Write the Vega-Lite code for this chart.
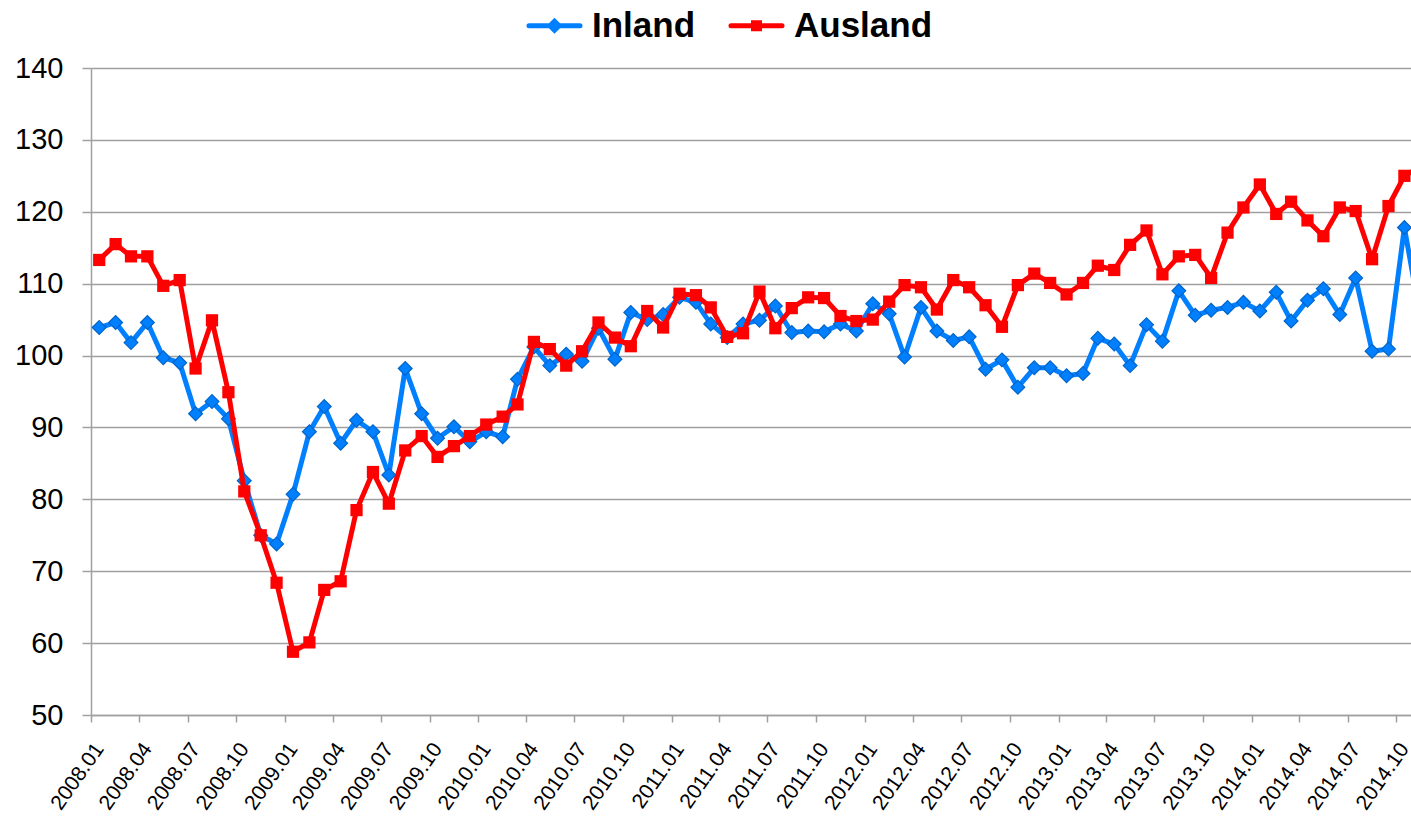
{
  "$schema": "https://vega.github.io/schema/vega-lite/v6.json",
  "width": 1320,
  "height": 647,
  "autosize": {"type": "none"},
  "padding": {"left": 91, "top": 68, "right": 0, "bottom": 102},
  "background": "white",
  "config": {
    "font": "Liberation Sans",
    "view": {"stroke": null}
  },
  "data": {
    "values": [
      {"month": "2008-01-01", "Inland": 103.9, "Ausland": 113.3},
      {"month": "2008-02-01", "Inland": 104.6, "Ausland": 115.5},
      {"month": "2008-03-01", "Inland": 101.8, "Ausland": 113.8},
      {"month": "2008-04-01", "Inland": 104.6, "Ausland": 113.8},
      {"month": "2008-05-01", "Inland": 99.7, "Ausland": 109.7},
      {"month": "2008-06-01", "Inland": 99.0, "Ausland": 110.5},
      {"month": "2008-07-01", "Inland": 91.9, "Ausland": 98.2},
      {"month": "2008-08-01", "Inland": 93.6, "Ausland": 104.9},
      {"month": "2008-09-01", "Inland": 91.2, "Ausland": 94.9},
      {"month": "2008-10-01", "Inland": 82.6, "Ausland": 81.1},
      {"month": "2008-11-01", "Inland": 75.0, "Ausland": 75.0},
      {"month": "2008-12-01", "Inland": 73.8, "Ausland": 68.4},
      {"month": "2009-01-01", "Inland": 80.7, "Ausland": 58.8},
      {"month": "2009-02-01", "Inland": 89.4, "Ausland": 60.1},
      {"month": "2009-03-01", "Inland": 92.9, "Ausland": 67.4},
      {"month": "2009-04-01", "Inland": 87.8, "Ausland": 68.6},
      {"month": "2009-05-01", "Inland": 91.0, "Ausland": 78.5},
      {"month": "2009-06-01", "Inland": 89.4, "Ausland": 83.8},
      {"month": "2009-07-01", "Inland": 83.4, "Ausland": 79.4},
      {"month": "2009-08-01", "Inland": 98.2, "Ausland": 86.8},
      {"month": "2009-09-01", "Inland": 91.9, "Ausland": 88.8},
      {"month": "2009-10-01", "Inland": 88.5, "Ausland": 85.9},
      {"month": "2009-11-01", "Inland": 90.1, "Ausland": 87.4},
      {"month": "2009-12-01", "Inland": 88.0, "Ausland": 88.8},
      {"month": "2010-01-01", "Inland": 89.4, "Ausland": 90.4},
      {"month": "2010-02-01", "Inland": 88.7, "Ausland": 91.5},
      {"month": "2010-03-01", "Inland": 96.7, "Ausland": 93.2},
      {"month": "2010-04-01", "Inland": 101.2, "Ausland": 101.9},
      {"month": "2010-05-01", "Inland": 98.6, "Ausland": 100.9},
      {"month": "2010-06-01", "Inland": 100.2, "Ausland": 98.6},
      {"month": "2010-07-01", "Inland": 99.2, "Ausland": 100.6},
      {"month": "2010-08-01", "Inland": 103.8, "Ausland": 104.6},
      {"month": "2010-09-01", "Inland": 99.5, "Ausland": 102.5},
      {"month": "2010-10-01", "Inland": 106.0, "Ausland": 101.3},
      {"month": "2010-11-01", "Inland": 105.0, "Ausland": 106.2},
      {"month": "2010-12-01", "Inland": 105.7, "Ausland": 103.9},
      {"month": "2011-01-01", "Inland": 108.1, "Ausland": 108.6},
      {"month": "2011-02-01", "Inland": 107.4, "Ausland": 108.4},
      {"month": "2011-03-01", "Inland": 104.4, "Ausland": 106.7},
      {"month": "2011-04-01", "Inland": 102.5, "Ausland": 102.6},
      {"month": "2011-05-01", "Inland": 104.4, "Ausland": 103.1},
      {"month": "2011-06-01", "Inland": 104.9, "Ausland": 108.9},
      {"month": "2011-07-01", "Inland": 106.9, "Ausland": 103.8},
      {"month": "2011-08-01", "Inland": 103.2, "Ausland": 106.6},
      {"month": "2011-09-01", "Inland": 103.4, "Ausland": 108.1},
      {"month": "2011-10-01", "Inland": 103.3, "Ausland": 108.0},
      {"month": "2011-11-01", "Inland": 104.4, "Ausland": 105.5},
      {"month": "2011-12-01", "Inland": 103.4, "Ausland": 104.8},
      {"month": "2012-01-01", "Inland": 107.2, "Ausland": 105.0},
      {"month": "2012-02-01", "Inland": 105.8, "Ausland": 107.5},
      {"month": "2012-03-01", "Inland": 99.8, "Ausland": 109.8},
      {"month": "2012-04-01", "Inland": 106.7, "Ausland": 109.5},
      {"month": "2012-05-01", "Inland": 103.4, "Ausland": 106.4},
      {"month": "2012-06-01", "Inland": 102.1, "Ausland": 110.5},
      {"month": "2012-07-01", "Inland": 102.6, "Ausland": 109.5},
      {"month": "2012-08-01", "Inland": 98.1, "Ausland": 107.0},
      {"month": "2012-09-01", "Inland": 99.4, "Ausland": 104.0},
      {"month": "2012-10-01", "Inland": 95.6, "Ausland": 109.8},
      {"month": "2012-11-01", "Inland": 98.3, "Ausland": 111.4},
      {"month": "2012-12-01", "Inland": 98.3, "Ausland": 110.1},
      {"month": "2013-01-01", "Inland": 97.2, "Ausland": 108.5},
      {"month": "2013-02-01", "Inland": 97.5, "Ausland": 110.1},
      {"month": "2013-03-01", "Inland": 102.4, "Ausland": 112.5},
      {"month": "2013-04-01", "Inland": 101.6, "Ausland": 111.9},
      {"month": "2013-05-01", "Inland": 98.6, "Ausland": 115.4},
      {"month": "2013-06-01", "Inland": 104.3, "Ausland": 117.4},
      {"month": "2013-07-01", "Inland": 102.0, "Ausland": 111.3},
      {"month": "2013-08-01", "Inland": 109.0, "Ausland": 113.8},
      {"month": "2013-09-01", "Inland": 105.6, "Ausland": 114.0},
      {"month": "2013-10-01", "Inland": 106.3, "Ausland": 110.8},
      {"month": "2013-11-01", "Inland": 106.7, "Ausland": 117.1},
      {"month": "2013-12-01", "Inland": 107.4, "Ausland": 120.6},
      {"month": "2014-01-01", "Inland": 106.2, "Ausland": 123.8},
      {"month": "2014-02-01", "Inland": 108.8, "Ausland": 119.7},
      {"month": "2014-03-01", "Inland": 104.8, "Ausland": 121.4},
      {"month": "2014-04-01", "Inland": 107.7, "Ausland": 118.8},
      {"month": "2014-05-01", "Inland": 109.3, "Ausland": 116.6},
      {"month": "2014-06-01", "Inland": 105.7, "Ausland": 120.6},
      {"month": "2014-07-01", "Inland": 110.8, "Ausland": 120.1},
      {"month": "2014-08-01", "Inland": 100.6, "Ausland": 113.4},
      {"month": "2014-09-01", "Inland": 100.9, "Ausland": 120.8},
      {"month": "2014-10-01", "Inland": 117.8, "Ausland": 125.0},
      {"month": "2014-11-01", "Inland": 105.0, "Ausland": 126.3}
    ]
  },
  "transform": [{"fold": ["Inland", "Ausland"], "as": ["series", "value"]}],
  "encoding": {
    "x": {
      "field": "month",
      "type": "temporal",
      "scale": {
        "type": "utc",
        "domain": [
          {"year": 2007, "month": 12, "date": 16, "hours": 12, "utc": true},
          {"year": 2014, "month": 10, "date": 13, "hours": 12, "utc": true}
        ]
      },
      "axis": {
        "title": null,
        "tickCount": {"interval": "month", "step": 3},
        "format": "%Y.%m",
        "labelAngle": -55,
        "labelFontSize": 21,
        "labelColor": "#000000",
        "labelFont": "Liberation Sans",
        "tickOffset": -8,
        "labelOffset": 8,
        "tickSize": 7,
        "tickWidth": 1.5,
        "tickColor": "#a0a0a0",
        "domainColor": "#a0a0a0",
        "domainWidth": 1.5,
        "labelPadding": 23,
        "grid": false,
        "labelOverlap": false,
        "labelBound": false,
        "labelFlush": false
      }
    },
    "y": {
      "field": "value",
      "type": "quantitative",
      "scale": {"domain": [50, 140], "nice": false, "zero": false},
      "axis": {
        "title": null,
        "values": [50, 60, 70, 80, 90, 100, 110, 120, 130, 140],
        "labelFontSize": 29,
        "labelColor": "#000000",
        "labelFont": "Liberation Sans",
        "tickSize": 9,
        "tickWidth": 1.5,
        "tickColor": "#a0a0a0",
        "domainColor": "#a0a0a0",
        "domainWidth": 1.5,
        "gridColor": "#a0a0a0",
        "gridWidth": 1.5,
        "grid": true,
        "labelPadding": 19
      }
    },
    "color": {
      "field": "series",
      "type": "nominal",
      "scale": {"domain": ["Inland", "Ausland"], "range": ["#0080ff", "#ff0000"]},
      "legend": {
        "title": null,
        "orient": "none",
        "legendX": 446,
        "legendY": -60,
        "direction": "horizontal",
        "padding": 0,
        "labelFontSize": 35,
        "labelFont": "Liberation Sans",
        "labelFontWeight": "bold",
        "labelColor": "#000000",
        "symbolSize": 400,
        "symbolStrokeWidth": 5,
        "symbolOpacity": 1,
        "labelOffset": 20,
        "columnPadding": 25,
        "labelLimit": 400,
        "encode": {
          "symbols": {
            "update": {
              "shape": {"signal": "datum.value === 'Inland' ? 'M-2.55,0H2.55M-0.45,0L0,-0.45L0.45,0L0,0.45Z' : 'M-2.55,0H2.55M-0.3,-0.3H0.3V0.3H-0.3Z'"},
              "fill": {"signal": "datum.value === 'Inland' ? '#0080ff' : '#ff0000'"},
              "stroke": {"signal": "datum.value === 'Inland' ? '#0080ff' : '#ff0000'"},
              "strokeWidth": {"value": 5},
              "strokeCap": {"value": "round"},
              "opacity": {"value": 1}
            }
          }
        }
      }
    }
  },
  "layer": [
    {
      "transform": [{"filter": "datum.series === 'Inland'"}],
      "mark": {"type": "line", "strokeWidth": 5, "strokeJoin": "round", "clip": true}
    },
    {
      "transform": [{"filter": "datum.series === 'Inland'"}],
      "mark": {"type": "point", "shape": "diamond", "filled": true, "size": 190, "opacity": 1, "stroke": "#0064c8", "strokeWidth": 1.2, "clip": true}
    },
    {
      "transform": [{"filter": "datum.series === 'Ausland'"}],
      "mark": {"type": "line", "strokeWidth": 5, "strokeJoin": "round", "clip": true}
    },
    {
      "transform": [{"filter": "datum.series === 'Ausland'"}],
      "mark": {"type": "point", "shape": "square", "filled": true, "size": 150, "opacity": 1, "clip": true}
    }
  ]
}
